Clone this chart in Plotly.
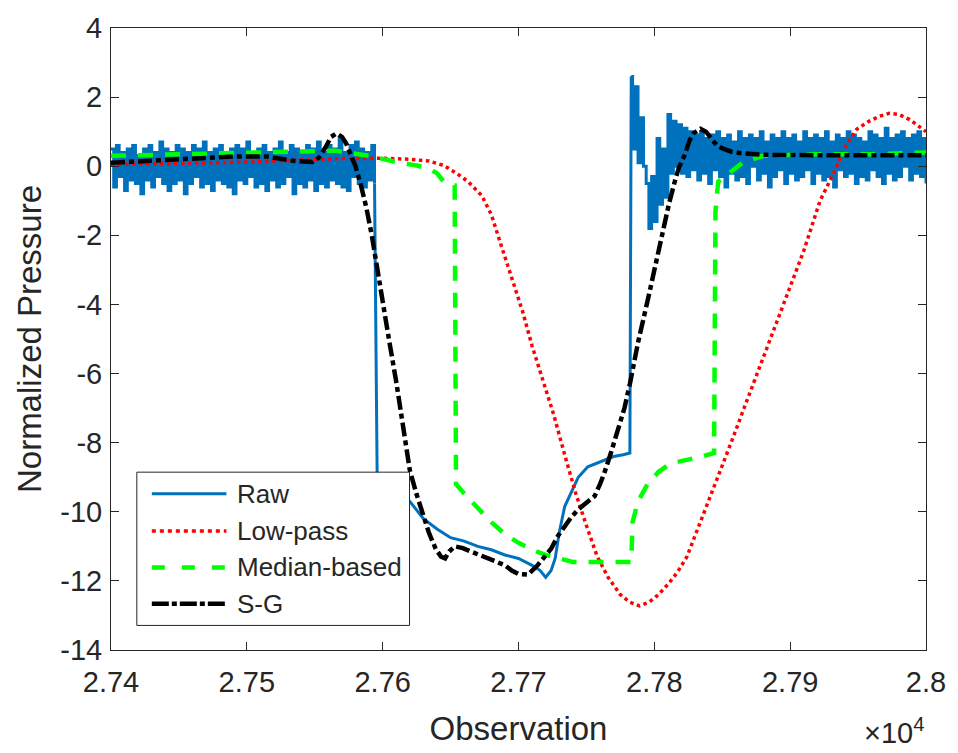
import plotly.graph_objects as go

# ---------------- data ----------------
# Raw signal: noisy baseline (every 2nd observation), drop, recovery, noisy baseline
raw_x_left = list(range(27400, 27596, 2))
raw_y_left = [
    0.5, -0.6, 0.6, -0.3, 0.4, -0.7, 0.5, -0.4, 0.6, -0.5,
    0.3, -0.8, 0.5, -0.4, 0.6, -0.6, 0.4, -0.3, 0.7, -0.5,
    0.5, -0.7, 0.4, -0.5, 0.6, -0.4, 0.5, -0.8, 0.4, -0.5,
    0.6, -0.3, 0.5, -0.6, 0.7, -0.5, 0.4, -0.7, 0.5, -0.4,
    0.6, -0.5, 0.3, -0.6, 0.5, -0.8, 0.6, -0.4, 0.5, -0.5,
    0.7, -0.3, 0.4, -0.6, 0.5, -0.5, 0.6, -0.7, 0.4, -0.4,
    0.5, -0.6, 0.7, -0.5, 0.4, -0.3, 0.6, -0.8, 0.5, -0.5,
    0.4, -0.6, 0.6, -0.4, 0.5, -0.7, 0.7, -0.5, 0.4, -0.6,
    0.6, -0.4, 0.5, -0.5, 0.8, -0.6, 0.4, -0.7, 0.6, -0.3,
    0.7, -0.5, 0.5, -0.6, 0.4, -0.4, 0.6, -0.5,
]
raw_x_mid = [27596, 27600, 27610, 27620, 27630, 27640, 27650, 27660, 27670, 27680,
             27690, 27700, 27710, 27716, 27720, 27724, 27727, 27730, 27734, 27739,
             27744, 27751, 27757, 27763, 27770, 27777, 27782]
raw_y_mid = [-9.2, -9.3, -9.5, -9.7, -10.2, -10.5, -10.75, -10.85, -11.0, -11.1,
             -11.25, -11.35, -11.55, -11.7, -11.9, -11.7, -11.35, -10.6, -9.85, -9.4,
             -9.0, -8.7, -8.6, -8.5, -8.4, -8.35, -8.3]
raw_x_spike = [27783, 27784, 27786, 27788, 27790, 27792, 27794, 27796, 27798, 27800,
               27802, 27804, 27806, 27808, 27810, 27812, 27814, 27816, 27818, 27820, 27822]
raw_y_spike = [2.6, 0.5, 2.3, 0.1, 1.4, 0.0, -0.5, -1.8, -0.3, -1.6,
               0.8, -1.1, 0.5, -0.9, 1.5, -0.2, 1.3, 0.0, 1.2, -0.2, 1.1]
raw_x_right = list(range(27824, 28001, 2))
raw_y_right = [
    -0.3, 1.0, -0.1, 0.9, -0.4, 1.0, -0.2, 0.8, -0.5, 0.9,
    -0.1, 1.0, -0.3, 0.8, -0.6, 0.9, -0.2, 0.7, -0.4, 1.0,
    -0.3, 0.8, -0.5, 0.9, 0.0, 0.8, -0.4, 1.0, -0.2, 0.7,
    -0.6, 0.9, -0.3, 0.8, -0.1, 1.0, -0.5, 0.8, -0.2, 0.9,
    -0.4, 0.7, -0.3, 1.0, -0.1, 0.8, -0.5, 0.9, -0.2, 0.8,
    -0.4, 1.0, -0.3, 0.7, -0.6, 0.9, -0.1, 0.8, -0.3, 1.0,
    -0.2, 0.9, -0.5, 0.8, -0.3, 0.7, -0.4, 1.0, -0.1, 0.9,
    -0.3, 0.8, -0.5, 1.1, -0.2, 0.8, -0.4, 0.9, -0.3, 1.0,
    0.0, 0.8, -0.4, 0.9, -0.2, 1.0, -0.3, 0.8, -0.5,
]

# Low-pass filtered
lp_x = [27400, 27450, 27500, 27540, 27570, 27600, 27620, 27634, 27645, 27655,
        27663, 27673, 27680, 27687, 27695, 27703, 27710, 27718, 27726, 27734,
        27742, 27750, 27758, 27766, 27775, 27782, 27789, 27796, 27803, 27810,
        27817, 27824, 27835, 27846, 27857, 27868, 27879, 27890, 27900, 27910,
        27922, 27932, 27941, 27949, 27958, 27966, 27973, 27980, 27988, 27994, 28000]
lp_y = [0.05, 0.08, 0.12, 0.18, 0.22, 0.23, 0.2, 0.15, 0.02, -0.22,
        -0.45, -0.85, -1.4, -2.26, -3.2, -4.2, -5.2, -6.24, -7.2, -8.35,
        -9.45, -10.4, -11.3, -11.9, -12.4, -12.62, -12.72, -12.62, -12.4, -12.1,
        -11.75, -11.3, -10.2, -9.1, -7.95, -6.8, -5.65, -4.55, -3.5, -2.45,
        -1.0, -0.2, 0.6, 1.07, 1.3, 1.45, 1.53, 1.5, 1.35, 1.18, 1.0]

# Median-based filtered
md_x = [27400, 27450, 27500, 27540, 27565, 27590, 27610, 27625, 27634, 27640,
        27645, 27653, 27654, 27663, 27670, 27680, 27690, 27700, 27710, 27720,
        27730, 27740, 27760, 27783, 27784, 27788, 27795, 27803, 27812, 27825,
        27835, 27844, 27845, 27847, 27852, 27858, 27865, 27880, 27920, 27960, 28000]
md_y = [0.3, 0.35, 0.4, 0.45, 0.45, 0.3, 0.12, 0.02, -0.07, -0.2,
        -0.45, -0.55, -9.2, -9.6, -9.9, -10.3, -10.65, -10.9, -11.1, -11.25,
        -11.35, -11.45, -11.45, -11.45, -10.3, -9.7, -9.2, -8.85, -8.6, -8.5,
        -8.4, -8.3, -1.3, -0.45, -0.3, -0.15, 0.1, 0.3, 0.35, 0.35, 0.4]

# Savitzky-Golay filtered
sg_x = [27400, 27430, 27460, 27490, 27515, 27535, 27548, 27553, 27558, 27562,
        27566, 27570, 27573, 27577, 27580, 27584, 27588, 27592, 27596, 27600,
        27605, 27610, 27615, 27620, 27625, 27629, 27634, 27639, 27643, 27646,
        27649, 27653, 27659, 27665, 27672, 27678, 27684, 27690, 27695, 27700,
        27707, 27714, 27719, 27724, 27729, 27734, 27739, 27744, 27750, 27756,
        27760, 27763, 27768, 27773, 27778, 27782, 27788, 27795, 27801, 27807,
        27811, 27815, 27818, 27822, 27826, 27829, 27834, 27838, 27841, 27846,
        27851, 27857, 27863, 27880, 27920, 27960, 28000]
sg_y = [0.1, 0.15, 0.22, 0.28, 0.28, 0.15, 0.12, 0.25, 0.55, 0.85,
        0.95, 0.85, 0.67, 0.3, 0.0, -0.55, -1.2, -2.0, -3.0, -3.9,
        -5.1, -6.24, -7.6, -8.8, -9.5, -10.0, -10.6, -11.07, -11.3, -11.35,
        -11.15, -11.0, -11.05, -11.15, -11.25, -11.35, -11.45, -11.55, -11.7, -11.8,
        -11.82, -11.55, -11.3, -11.07, -10.7, -10.4, -10.15, -9.93, -9.75, -9.55,
        -9.2, -8.9, -8.3, -7.65, -7.0, -6.3, -5.1, -3.9, -2.8, -1.7,
        -1.05, -0.45, -0.05, 0.3, 0.75, 0.96, 1.08, 1.0, 0.85, 0.6,
        0.5, 0.42, 0.38, 0.33, 0.32, 0.32, 0.32]

x_tick_vals = [27400, 27500, 27600, 27700, 27800, 27900, 28000]
x_tick_text = ["2.74", "2.75", "2.76", "2.77", "2.78", "2.79", "2.8"]
y_tick_vals = [-14, -12, -10, -8, -6, -4, -2, 0, 2, 4]
y_tick_text = ["-14", "-12", "-10", "-8", "-6", "-4", "-2", "0", "2", "4"]

series_names = ["Raw", "Low-pass", "Median-based", "S-G"]

# ---------------- styles ----------------
FONT = "Liberation Sans, Arial, Helvetica, sans-serif"
TXT = "#262626"
styles = {
    "Raw": dict(color="#0072BD", width=3, dash="solid", leg_dash="solid"),
    "Low-pass": dict(color="#FF0000", width=3.5, dash="dot", leg_dash="4px,4px"),
    "Median-based": dict(color="#00FF00", width=4.5, dash="15px,12px", leg_dash="13px,17px"),
    "S-G": dict(color="#000000", width=4.5, dash="14px,4px,5px,4px", leg_dash="17px,3px,5px,3px"),
}

fig = go.Figure()

# Raw: noisy baseline parts drawn as steps (like the sampled signal), transition drawn linearly
raw_st = styles["Raw"]
raw_line = dict(color=raw_st["color"], width=raw_st["width"])
raw_segments = [
    (raw_x_left, raw_y_left, "hv"),
    ([raw_x_left[-1]] + raw_x_mid + [raw_x_spike[0]], [raw_y_left[-1]] + raw_y_mid + [raw_y_spike[0]], "linear"),
    (raw_x_spike + raw_x_right, raw_y_spike + raw_y_right, "hv"),
]
for xs, ys, shape in raw_segments:
    fig.add_trace(go.Scatter(x=xs, y=ys, mode="lines", name="Raw", legendgroup="Raw",
                             showlegend=False, line=dict(shape=shape, **raw_line)))

data = {
    "Low-pass": (lp_x, lp_y),
    "Median-based": (md_x, md_y),
    "S-G": (sg_x, sg_y),
}
for name in series_names[1:]:
    xs, ys = data[name]
    st = styles[name]
    fig.add_trace(go.Scatter(
        x=xs, y=ys, mode="lines", name=name, showlegend=False,
        line=dict(color=st["color"], width=st["width"], dash=st["dash"]),
    ))

# ---------------- custom MATLAB-like legend ----------------
L_X0, L_X1, L_Y0, L_Y1 = 0.0317, 0.3663, 0.0395, 0.2859
SAMPLE_X0, SAMPLE_X1, TEXT_X = 0.0501, 0.1416, 0.1526
ROW_Y = [0.2512, 0.1912, 0.1327, 0.0743]

shapes = [dict(type="rect", xref="paper", yref="paper", x0=L_X0, x1=L_X1, y0=L_Y0, y1=L_Y1,
               line=dict(color=TXT, width=1), fillcolor="white", layer="above")]
annotations = []
for name, ry in zip(series_names, ROW_Y):
    st = styles[name]
    shapes.append(dict(type="line", xref="paper", yref="paper", x0=SAMPLE_X0, x1=SAMPLE_X1,
                       y0=ry, y1=ry, line=dict(color=st["color"], width=st["width"], dash=st["leg_dash"]),
                       layer="above"))
    annotations.append(dict(text=name, xref="paper", yref="paper", x=TEXT_X, y=ry,
                            xanchor="left", yanchor="middle", showarrow=False,
                            font=dict(family=FONT, size=26, color=TXT)))

annotations.append(dict(text="×10<sup>4</sup>", xref="paper", yref="paper", x=1.0, y=-0.13,
                        xanchor="right", yanchor="middle", showarrow=False,
                        font=dict(family=FONT, size=29, color=TXT)))

axis_common = dict(showline=True, mirror="ticks", linecolor=TXT, linewidth=1,
                   ticks="inside", ticklen=8, tickcolor=TXT, tickwidth=1,
                   showgrid=False, zeroline=False,
                   tickfont=dict(family=FONT, size=29, color=TXT))

fig.update_layout(
    width=958, height=753,
    margin=dict(l=111, r=28, t=20, b=100),
    paper_bgcolor="white", plot_bgcolor="white",
    shapes=shapes, annotations=annotations,
    xaxis=dict(range=[27400, 28000], tickvals=x_tick_vals, ticktext=x_tick_text,
               ticklabelstandoff=6,
               title=dict(text="Observation", font=dict(family=FONT, size=33, color=TXT), standoff=20),
               **axis_common),
    yaxis=dict(range=[-14, 4], tickvals=y_tick_vals, ticktext=y_tick_text,
               ticklabelstandoff=2,
               title=dict(text="Normalized Pressure", font=dict(family=FONT, size=33, color=TXT), standoff=8),
               **axis_common),
)

fig.write_html("out.html")
